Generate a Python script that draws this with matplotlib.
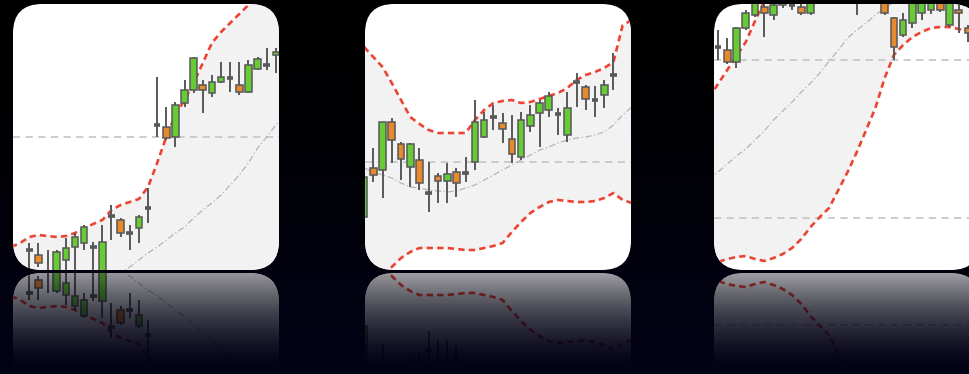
import numpy as np
import matplotlib
matplotlib.use('Agg')
import matplotlib.pyplot as plt
from matplotlib.patches import FancyBboxPatch

#-------- DATA (price units, one candle per index) ---------
# tile 1
t1_open  = [20, 15, -2, -2, 10, 23, 27, 23, -2, 54, 50, 37, 42, 62, 145, 143, 133, 167, 180, 185, 177, 188, 192, 185, 178, 201, 205, 215]
t1_high  = [27, 27, 20, 20, 32, 37, 45, 28, 45, 65, 52, 45, 55, 82, 193, 163, 168, 190, 213, 190, 195, 208, 208, 208, 210, 213, 222, 222]
t1_low   = [2, 3, -15, -10, -2, 0, 20, -5, -5, 30, 33, 20, 27, 47, 133, 130, 123, 163, 177, 157, 173, 187, 178, 175, 177, 200, 200, 197]
t1_close = [20, 7, -6, 18, 22, 33, 43, 23, 28, 54, 37, 37, 53, 62, 145, 132, 165, 180, 212, 180, 188, 193, 192, 178, 205, 211, 205, 218]
t1_band_start = -2
t1_upper = [23, 27, 33, 35, 34, 33, 34, 37, 42, 46, 50, 60, 65, 68, 71, 83, 107, 133, 155, 170, 187, 207, 227, 238, 247, 256, 265, 275, 300, 318, 335]
t1_mid   = [-38, -35, -32, -30, -28, -26, -24, -22, -20, -17, -14, -10, -3, 3, 10, 17, 23, 30, 37, 43, 52, 60, 67, 75, 85, 95, 107, 122, 133, 145, 155]
t1_lower = [-99, -97, -97, -95, -90, -85, -82, -81, -82, -80, -78, -80, -71, -62, -51, -49, -61, -73, -81, -84, -83, -87, -93, -88, -77, -66, -51, -40, -34, -28, -25]
t1_grid  = [133]

# tile 2
t2_open  = [53, 102, 100, 148, 126, 103, 110, 77, 94, 89, 98, 97, 108, 133, 153, 147, 131, 113, 144, 157, 160, 156, 135, 188, 183, 170, 175, 195]
t2_high  = [95, 122, 148, 152, 128, 127, 122, 108, 97, 107, 102, 113, 170, 158, 165, 157, 155, 158, 165, 170, 178, 162, 178, 197, 185, 184, 190, 217]
t2_low   = [50, 88, 72, 107, 90, 83, 80, 58, 67, 67, 73, 88, 100, 132, 140, 127, 107, 110, 138, 123, 153, 135, 128, 163, 160, 153, 162, 180]
t2_close = [93, 95, 148, 130, 111, 126, 87, 77, 89, 96, 87, 97, 148, 150, 153, 141, 116, 150, 155, 167, 174, 156, 162, 188, 171, 170, 185, 195]
t2_band_start = 0
t2_upper = [223, 213, 203, 187, 170, 153, 146, 140, 137, 137, 137, 137, 150, 160, 167, 169, 170, 167, 168, 171, 174, 177, 182, 190, 195, 198, 202, 208, 245, 250]
t2_mid   = [102, 98, 95, 92, 87, 83, 82, 80, 79, 78, 79, 82, 85, 90, 95, 100, 105, 110, 115, 120, 123, 127, 130, 132, 133, 135, 138, 145, 155, 163]
t2_lower = [-30, -17, -5, 3, 12, 18, 22, 22, 22, 22, 21, 20, 20, 22, 24, 27, 38, 48, 57, 63, 68, 70, 69, 68, 68, 69, 72, 77, 70, 67]
t2_grid  = [108]

# tile 3
t3_open  = [223, 220, 208, 242, 255, 263, 255, 265, 265, 263, 257, 275, 280, 288, 292, 285, 280, 290, 270, 252, 235, 247, 257, 260, 268, 245, 260, 242]
t3_high  = [240, 232, 243, 260, 280, 270, 272, 285, 275, 270, 275, 290, 295, 300, 300, 292, 295, 300, 275, 253, 257, 272, 272, 272, 272, 272, 268, 245]
t3_low   = [210, 206, 202, 240, 253, 233, 250, 262, 260, 255, 255, 268, 272, 280, 278, 255, 272, 285, 255, 210, 233, 242, 250, 256, 258, 243, 237, 228]
t3_close = [223, 208, 242, 257, 275, 257, 265, 280, 265, 257, 270, 285, 290, 295, 290, 280, 290, 295, 257, 223, 250, 268, 268, 268, 260, 268, 257, 237]
t3_band_start = -1
t3_upper = [172, 186, 200, 214, 228, 249, 269, 288, 302, 314, 325, 331, 341, 356, 360, 366, 362, 354, 348, 332, 321, 323, 325, 330, 334, 341, 349, 357, 366, 376]
t3_mid   = [90, 98, 106, 114, 121, 130, 139, 150, 159, 168, 178, 187, 197, 209, 220, 232, 240, 247, 255, 262, 268, 274, 279, 284, 288, 292, 296, 299, 302, 305]
t3_lower = [5, 8, 11, 13, 14, 11, 9, 12, 16, 22, 31, 43, 53, 62, 80, 98, 118, 140, 162, 192, 215, 225, 233, 238, 242, 243, 243, 241, 238, 234]
t3_grid  = [52, 210]

#-------- STYLE ---------
GREEN  = '#66cc33'
ORANGE = '#e8892b'
WICK   = '#585858'
RED    = '#ec4434'
FILL   = '#f2f2f2'
NAVY   = np.array([0.012, 0.012, 0.095])

W, H = 970, 374
TILE = 266


def draw_tile(ax, opens, highs, lows, closes, band_start, upper, mid, lower, grid, xlim, flip=False):
    tile = FancyBboxPatch((0, 0), 1, 1, boxstyle='round,pad=0,rounding_size=0.11',
                          transform=ax.transAxes, facecolor='white', edgecolor='none', zorder=0)
    ax.add_patch(tile)

    bx = np.arange(len(upper)) + band_start
    ax.fill_between(bx, lower, upper, color=FILL, lw=0, zorder=1)
    for g in grid:
        ax.axhline(g, color='#c8c8c8', lw=1.3, ls=(0, (4, 3)), zorder=2)
    ax.plot(bx, mid, color='#b4b4b4', lw=0.9, ls=(0, (5, 2, 1, 2)), zorder=3)
    ax.plot(bx, upper, color=RED, lw=1.9, ls=(0, (2.4, 1.6)), zorder=4)
    ax.plot(bx, lower, color=RED, lw=1.9, ls=(0, (2.4, 1.6)), zorder=4)

    o = np.array(opens, float)
    c = np.array(closes, float)
    x = np.arange(len(o))
    ax.vlines(x, lows, highs, color=WICK, lw=1.4, zorder=5)
    cols = np.where(c > o, GREEN, np.where(c < o, ORANGE, WICK))
    lws = np.where(c == o, 2.6, 1.1)
    ax.bar(x, c - o, bottom=o, width=0.72, color=cols, edgecolor=WICK, linewidth=lws, zorder=6)

    ax.set_xlim(*xlim)
    if flip:
        ax.set_ylim(266, 0)
    else:
        ax.set_ylim(0, 266)
    ax.axis('off')
    for art in list(ax.collections) + list(ax.lines) + list(ax.patches):
        if art is not tile:
            art.set_clip_path(tile)


fig = plt.figure(figsize=(W / 100, H / 100), dpi=100)
fig.patch.set_facecolor('black')

# background gradient black -> dark navy
bg = fig.add_axes([0, 0, 1, 1], zorder=-10)
t = np.linspace(0, 1, 300)
bgimg = NAVY[None, None, :] * (t ** 1.5)[:, None, None]
bg.imshow(bgimg, aspect='auto', extent=[0, 1, 0, 1], interpolation='bilinear')
bg.axis('off')

tiles = [
    (13, t1_open, t1_high, t1_low, t1_close, t1_band_start, t1_upper, t1_mid, t1_lower, t1_grid, (-1.79, 27.35)),
    (365, t2_open, t2_high, t2_low, t2_close, t2_band_start, t2_upper, t2_mid, t2_lower, t2_grid, (0.1, 28.9)),
    (714, t3_open, t3_high, t3_low, t3_close, t3_band_start, t3_upper, t3_mid, t3_lower, t3_grid, (-0.43, 28.3)),
]

top, gap = 4, 3
for x0, o, h, l, c, bs, up, md, lo, gr, xl in tiles:
    ax = fig.add_axes([x0 / W, (H - top - TILE) / H, TILE / W, TILE / H])
    draw_tile(ax, o, h, l, c, bs, up, md, lo, gr, xl)
    # mirrored copy below
    rtop = top + TILE + gap
    rax = fig.add_axes([x0 / W, (H - rtop - TILE) / H, TILE / W, TILE / H])
    draw_tile(rax, o, h, l, c, bs, up, md, lo, gr, xl, flip=True)

# fade the reflections into the background
py = np.arange(top + TILE + 1, H) + 0.5
d = np.clip(py - (top + TILE + gap), 0, None)
refl = 0.62 * np.clip(1 - d / 95, 0, 1) ** 1.6
ov_img = np.zeros((len(py), 1, 4))
ov_img[..., :3] = NAVY[None, None, :] * ((py / H) ** 1.5)[:, None, None]
ov_img[..., 3] = (1 - refl)[:, None]
ov = fig.add_axes([0, 0, 1, len(py) / H], zorder=20)
ov.imshow(ov_img, aspect='auto', extent=[0, 1, 0, 1], interpolation='bilinear')
ov.axis('off')

fig.savefig('out.png', dpi=100, facecolor=fig.get_facecolor())
